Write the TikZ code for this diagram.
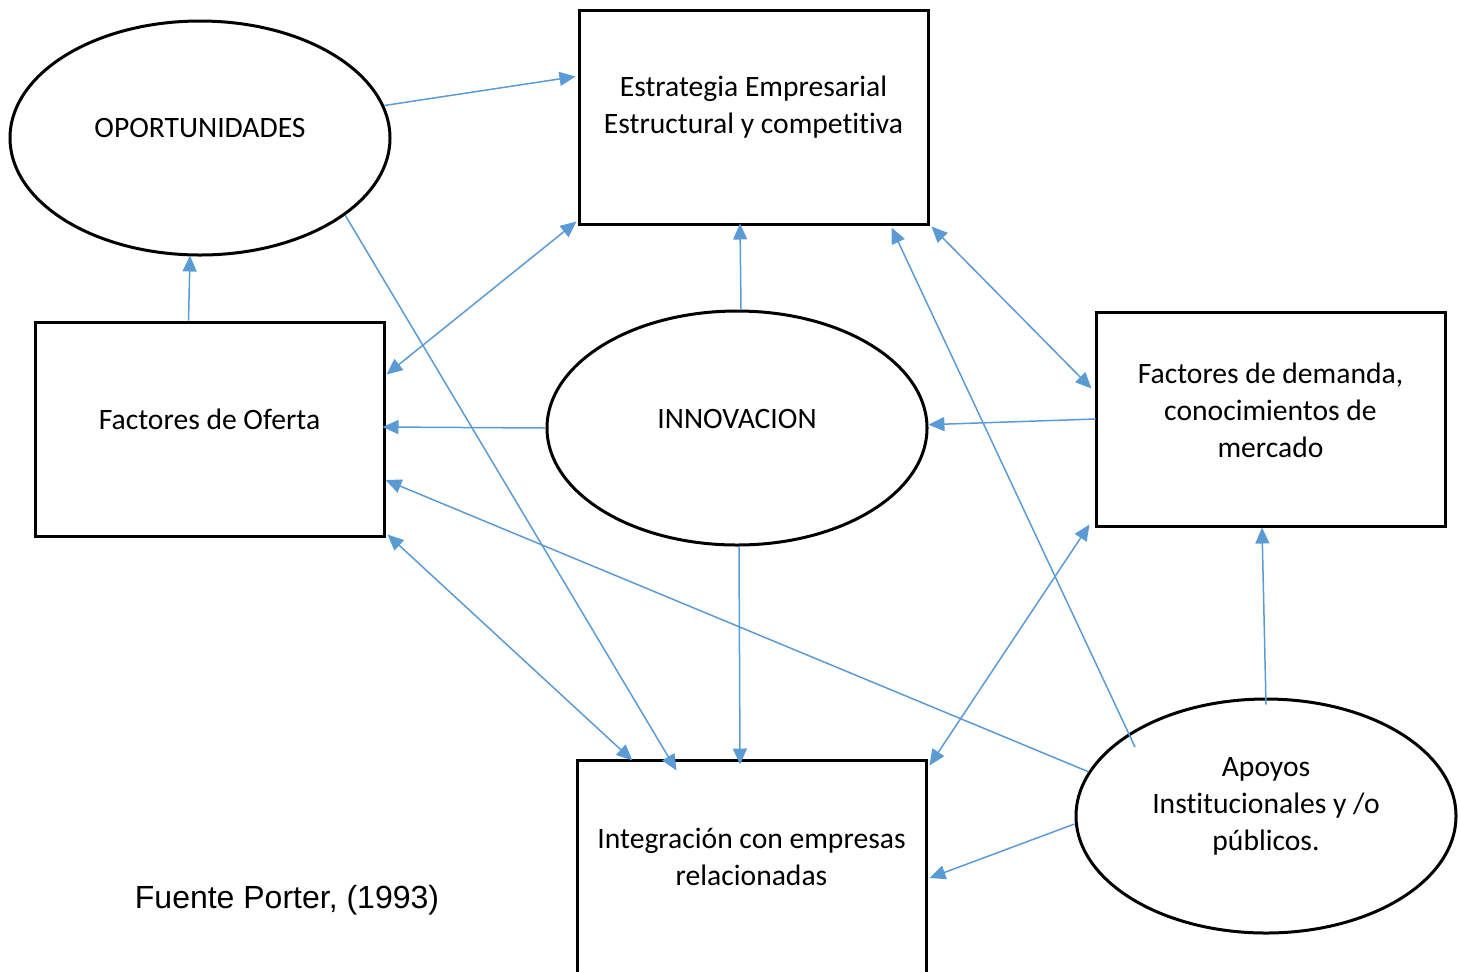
\documentclass[tikz,border=0pt]{standalone}
\usepackage{fontspec}
\setmainfont[Ligatures={NoCommon}]{Carlito}
\newfontfamily\arialf{Liberation Sans}
\usetikzlibrary{arrows.meta,shapes.geometric,calc}
\definecolor{conn}{HTML}{5B9BD5}
\begin{document}
\begin{tikzpicture}[x=0.5pt,y=-0.5pt,
  boxst/.style={draw=black,line width=1.5pt,rectangle,minimum width=174.5pt,minimum height=107pt,inner sep=0pt},
  ellst/.style={draw=black,line width=1.5pt,ellipse,minimum width=190pt,minimum height=117pt,inner sep=0pt},
  txt/.style={align=center,font=\fontsize{14.8}{18.5}\selectfont,inner sep=0pt},
  arr/.style={draw=conn,line width=0.75pt,-{Triangle[length=8pt,width=7pt]}},
  darr/.style={draw=conn,line width=0.75pt,{Triangle[length=8pt,width=7pt]}-{Triangle[length=8pt,width=7pt]}}]
\useasboundingbox (0,0) rectangle (1460,971);
% nodes
\node[ellst] (opp) at (200,138) {};
\node[boxst] (est) at (753.5,117) {};
\node[boxst] (of) at (209.5,429) {};
\node[ellst] (inn) at (737,428) {};
\node[boxst] (dm) at (1270.5,419) {};
\node[boxst] (ig) at (751.5,867) {};
\node[ellst] (ap) at (1266,816) {};
% texts
\node[txt] (toppo) at ($(opp.center)+(0,-10)$) {OPORTUNIDADES};
\node[txt] (test) at ($(est.center)+(0,-10)$) {Estrategia Empresarial\\Estructural y competitiva};
\node[txt] (tof) at ($(of.center)+(0,-10)$) {Factores de Oferta};
\node[txt] (tinn) at ($(inn.center)+(0,-9)$) {INNOVACION};
\node[txt] (tdm) at ($(dm.center)+(0,-9)$) {Factores de demanda,\\conocimientos de\\mercado};
\node[txt] (tig) at ($(ig.center)+(0,-10)$) {Integración con empresas\\relacionadas};
\node[txt] (tap) at ($(ap.center)+(0,-10)$) {Apoyos\\Institucionales y /o\\públicos.};
\node[inner sep=0pt,font=\arialf\fontsize{16}{19}\selectfont] (src) at (287,900) {Fuente Porter, (1993)};
% connectors
\draw[arr] (opp.10) -- ($(est.north west)+(-2,68)$);
\draw[arr] ($(of.north west)+(155,0)$) -- ($(opp.south)+(-10,-1)$);
\draw[darr] ($(of.north east)+(1,54)$) -- ($(est.south west)+(-1,-4)$);
\draw[arr] ($(inn.north)+(4,0)$) -- ($(est.south)+(-13.5,-2)$);
\draw[arr] (inn.west) -- ($(of.east)+(-3,-2)$);
\draw[arr] (opp.-28) -- ($(ig.north west)+(101,12)$);
\draw[darr] ($(of.south east)+(2,-3)$) -- ($(ig.north west)+(57,2)$);
\draw[arr] (ap.166) -- ($(of.east)+(0,51)$);
\draw[arr] ($(inn.south)+(2,0)$) -- ($(ig.north)+(-11.5,6)$);
\draw[darr] ($(est.south east)+(2,1)$) -- ($(dm.north west)+(-3,78)$);
\draw[arr] ($(ap.center)+(-131,-69)$) -- ($(est.south east)+(-38,2)$);
\draw[arr] ($(dm.west)+(1,0)$) -- (inn.1);
\draw[darr] ($(ig.north east)+(2,7)$) -- ($(dm.south west)+(-5,-3)$);
\draw[arr] ($(ap.north)+(0,7)$) -- ($(dm.south)+(-8.5,0)$);
\draw[arr] ($(ap.west)+(0,8)$) -- ($(ig.east)+(2,11)$);
\end{tikzpicture}
\end{document}
